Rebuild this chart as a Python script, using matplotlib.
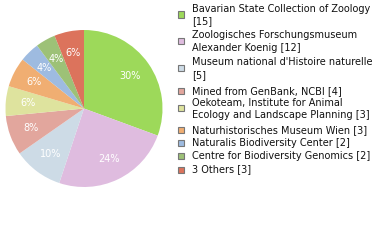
import matplotlib.pyplot as plt
from matplotlib.patches import Rectangle

labels = [
    "Bavarian State Collection of Zoology\n[15]",
    "Zoologisches Forschungsmuseum\nAlexander Koenig [12]",
    "Museum national d'Histoire naturelle\n[5]",
    "Mined from GenBank, NCBI [4]",
    "Oekoteam, Institute for Animal\nEcology and Landscape Planning [3]",
    "Naturhistorisches Museum Wien [3]",
    "Naturalis Biodiversity Center [2]",
    "Centre for Biodiversity Genomics [2]",
    "3 Others [3]",
]
counts = [15, 12, 5, 4, 3, 3, 2, 2, 3]
colors = ["#9dd95a", "#dfbcdf", "#cddbe6", "#e2a69d", "#dee39e",
          "#f0ae72", "#9ebbe0", "#9dc177", "#dc735c"]

W, H = 380, 240
fig = plt.figure(figsize=(3.8, 2.4), dpi=100)
cx, cy, r = 84, 108.5, 78.5
ax = fig.add_axes([(cx - r) / W, 1 - (cy + r) / H, 2 * r / W, 2 * r / H])

wedges, texts, autotexts = ax.pie(
    counts, colors=colors, startangle=90, counterclock=False,
    autopct=lambda p: f"{int(p)}%", pctdistance=0.72,
    wedgeprops=dict(linewidth=0),
    textprops=dict(color="white", fontsize=7, family="DejaVu Sans"),
)
ax.set_xlim(-1, 1)
ax.set_ylim(-1, 1)
ax.set_aspect("equal")

# legend drawn by hand to match the layout
sq_y = [14.5, 40.7, 67.7, 91, 108.3, 130, 143, 156, 169.5]
for lab, col, y in zip(labels, colors, sq_y):
    fig.patches.append(Rectangle((178 / W, 1 - (y + 3) / H), 6 / W, 6 / H,
                                 transform=fig.transFigure, facecolor=col,
                                 edgecolor="#777777", linewidth=0.8))
    lines = lab.split("\n")
    if len(lines) == 1:
        ys = [y]
    else:
        ys = [y - 5.5, y + 7]
    for line, ty in zip(lines, ys):
        fig.text(192 / W, 1 - ty / H, line, fontsize=7, va="center",
                 ha="left", color="#111111")

fig.savefig("out.png", dpi=100)
